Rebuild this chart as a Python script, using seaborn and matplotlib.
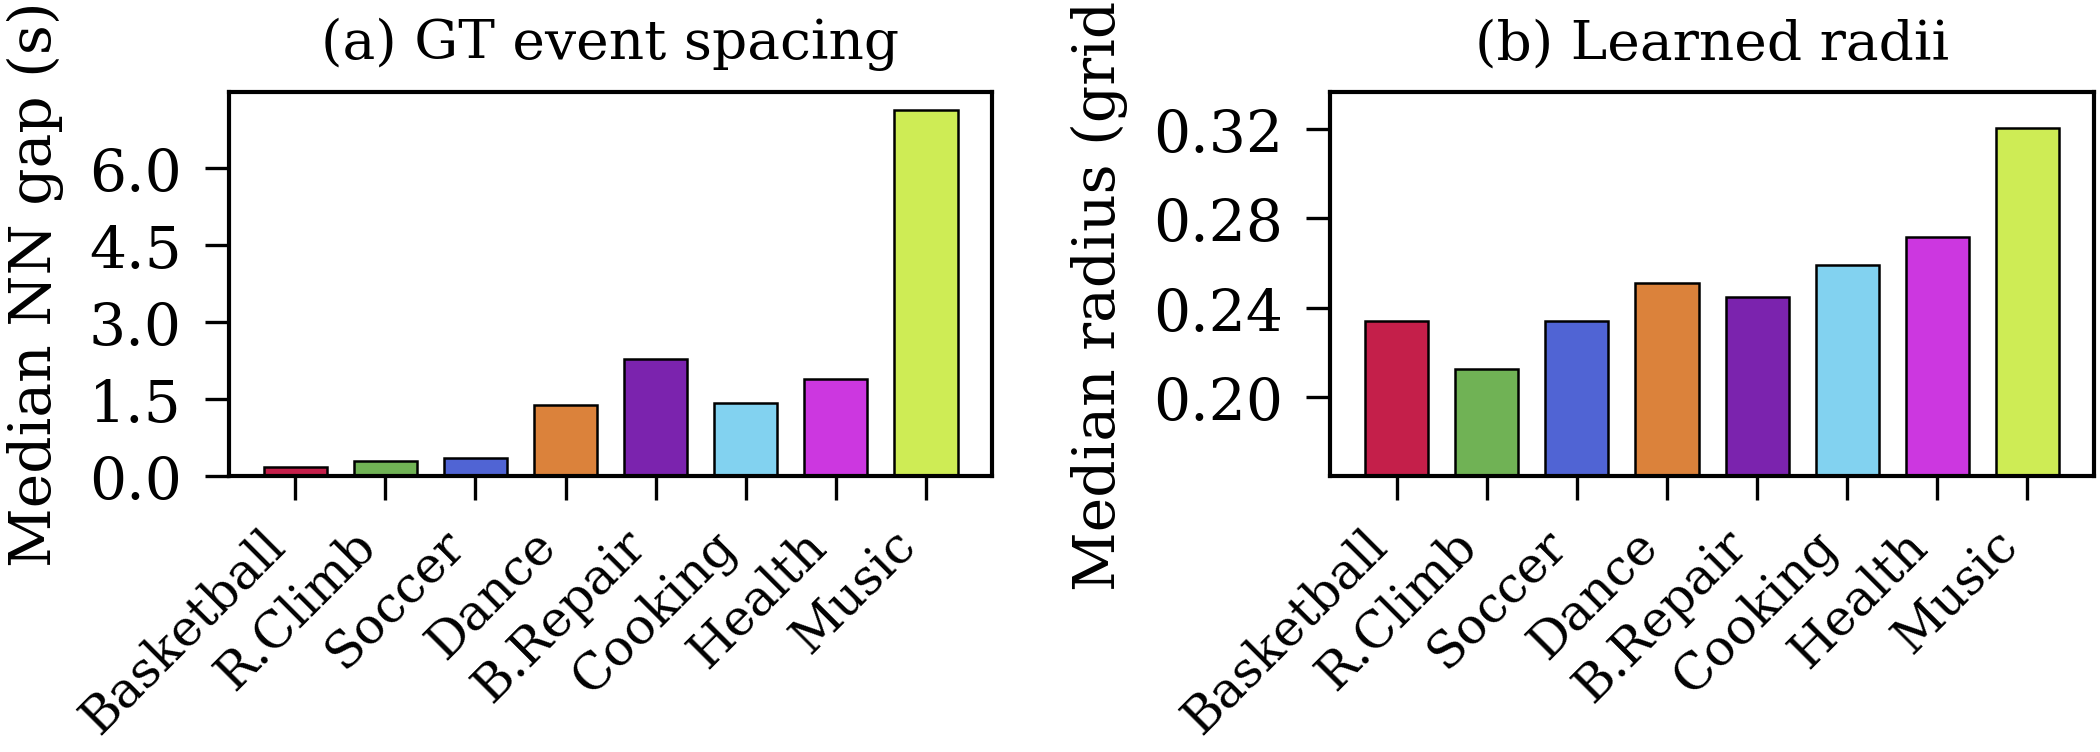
import seaborn as sns
import matplotlib.pyplot as plt
import pandas as pd

# data
categories = ['Basketball', 'R.Climb', 'Soccer', 'Dance', 'B.Repair', 'Cooking', 'Health', 'Music']
nn_gap = [0.17, 0.29, 0.35, 1.37, 2.28, 1.41, 1.89, 7.13]
radius = [0.234, 0.2127, 0.2343, 0.2511, 0.2449, 0.259, 0.2716, 0.3203]
colors = ['#C41F4A', '#70B255', '#5064D4', '#DB823B', '#7B23AE', '#82D2F0', '#CC37E0', '#CEEC55']

sns.set_style('ticks')
plt.rcParams['font.family'] = ['DejaVu Serif']
plt.rcParams['font.size'] = 14
plt.rcParams['axes.linewidth'] = 1.0
for k in ['text.color', 'axes.labelcolor', 'xtick.color', 'ytick.color', 'axes.edgecolor']:
    plt.rcParams[k] = 'black'

df = pd.DataFrame({'cat': categories, 'gap': nn_gap, 'radius': radius})

fig, axes = plt.subplots(1, 2, figsize=(7, 2.51), dpi=300)
fig.subplots_adjust(left=0.109, right=0.997, bottom=0.367, top=0.877, wspace=0.443)


def draw(ax, col, title, ylabel):
    sns.barplot(data=df, x='cat', y=col, hue='cat', palette=colors, legend=False,
                width=0.7, edgecolor='black', linewidth=0.6, saturation=1, ax=ax)
    ax.set_title(title, fontsize=13.2, pad=8)
    ax.set_ylabel(ylabel, fontsize=14, labelpad=6)
    ax.set_xlabel('')
    ax.set_xlim(-0.735, 7.735)
    ax.tick_params(axis='both', length=5.8, width=0.8)
    ax.tick_params(axis='y', labelsize=14, pad=5.5)
    ax.tick_params(axis='x', labelsize=12, pad=4.8)
    plt.setp(ax.get_xticklabels(), rotation=45, ha='right')
    for s in ax.spines.values():
        s.set_visible(True)
        s.set_linewidth(1.0)


draw(axes[0], 'gap', '(a) GT event spacing', 'Median NN gap (s)')
axes[0].set_ylim(0, 7.49)
axes[0].set_yticks([0.0, 1.5, 3.0, 4.5, 6.0])
axes[0].set_yticklabels(['0.0', '1.5', '3.0', '4.5', '6.0'])

draw(axes[1], 'radius', '(b) Learned radii', 'Median radius (grid)')
axes[1].set_ylim(0.165, 0.3367)
axes[1].set_yticks([0.20, 0.24, 0.28, 0.32])
axes[1].set_yticklabels(['0.20', '0.24', '0.28', '0.32'])

fig.savefig('out.png', dpi=300)
